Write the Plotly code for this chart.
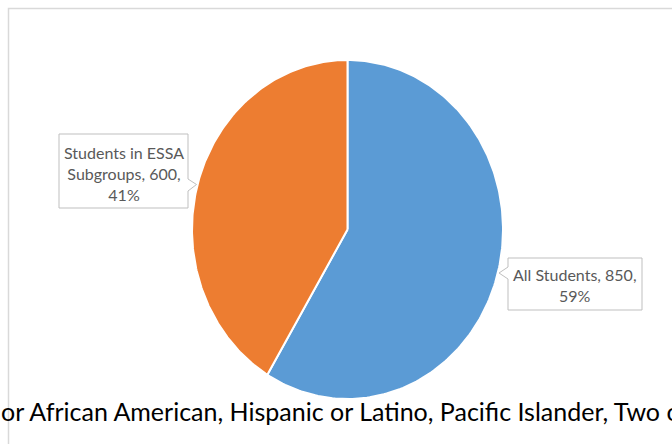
import numpy as np
import plotly.graph_objects as go

# Data
categories = ["All Students", "Students in ESSA Subgroups"]
values = [850, 600]
colors = ["#5B9BD5", "#ED7D31"]
footer_text = "or African American, Hispanic or Latino, Pacific Islander, Two o"

W, H = 672, 444
cx, cy = 347.5, 229.5      # pie centre (pixel units)
rx, ry = 155.5, 169.5      # pie radii (pixel units)

total = sum(values)
fracs = [v / total for v in values]

fig = go.Figure()

# Slices, clockwise from 12 o'clock
start = 0.0
for name, v, f, c in zip(categories, values, fracs, colors):
    t = np.linspace(start, start + f, 200) * 2 * np.pi
    xs = np.concatenate([[cx], cx + rx * np.sin(t), [cx]])
    ys = np.concatenate([[cy], cy - ry * np.cos(t), [cy]])
    fig.add_trace(go.Scatter(
        x=xs, y=ys, mode="lines", fill="toself", fillcolor=c,
        line=dict(color="white", width=2), name=name, hoverinfo="name",
        showlegend=False,
    ))
    start += f

# Chart frame
shapes = [dict(type="rect", xref="x", yref="y", x0=8.5, y0=8.5, x1=W + 20, y1=H + 20,
               line=dict(color="#D9D9D9", width=1.5), fillcolor="rgba(0,0,0,0)", layer="below")]

# Callout boxes with pointers
def callout(x0, y0, x1, y1, side, py0, tip, py1):
    if side == "right":
        p = (f"M{x0},{y0} L{x1},{y0} L{x1},{py0} L{tip[0]},{tip[1]} L{x1},{py1} "
             f"L{x1},{y1} L{x0},{y1} Z")
    else:
        p = (f"M{x0},{y0} L{x1},{y0} L{x1},{y1} L{x0},{y1} L{x0},{py1} "
             f"L{tip[0]},{tip[1]} L{x0},{py0} Z")
    return dict(type="path", xref="x", yref="y", path=p,
                line=dict(color="#BFBFBF", width=1), fillcolor="white")

shapes.append(callout(59, 134, 188, 208, "right", 179, (196.5, 184.5), 191))
shapes.append(callout(508, 258, 642, 310, "left", 267, (499, 273), 279))

def pct(f):
    return f"{round(f * 100)}%"

label_font = dict(family="Lato", size=16, color="#595959")
annotations = [
    dict(x=123.5, y=173.5, xref="x", yref="y", showarrow=False,
         text=f"Students in ESSA<br>Subgroups, {values[1]},<br>{pct(fracs[1])}",
         font=label_font, align="center"),
    dict(x=575, y=285, xref="x", yref="y", showarrow=False,
         text=f"{categories[0]}, {values[0]},<br>{pct(fracs[0])}",
         font=label_font, align="center"),
    dict(x=0, y=411, xref="x", yref="y", xanchor="left", yanchor="middle", xshift=-1,
         showarrow=False, text=footer_text,
         font=dict(family="Lato", size=25, color="#000000")),
]

fig.update_layout(
    width=W, height=H, margin=dict(l=0, r=0, t=0, b=0),
    paper_bgcolor="white", plot_bgcolor="white",
    xaxis=dict(range=[0, W], visible=False, fixedrange=True),
    yaxis=dict(range=[H, 0], visible=False, fixedrange=True),
    shapes=shapes, annotations=annotations, showlegend=False,
)

fig.write_html("out.html")
